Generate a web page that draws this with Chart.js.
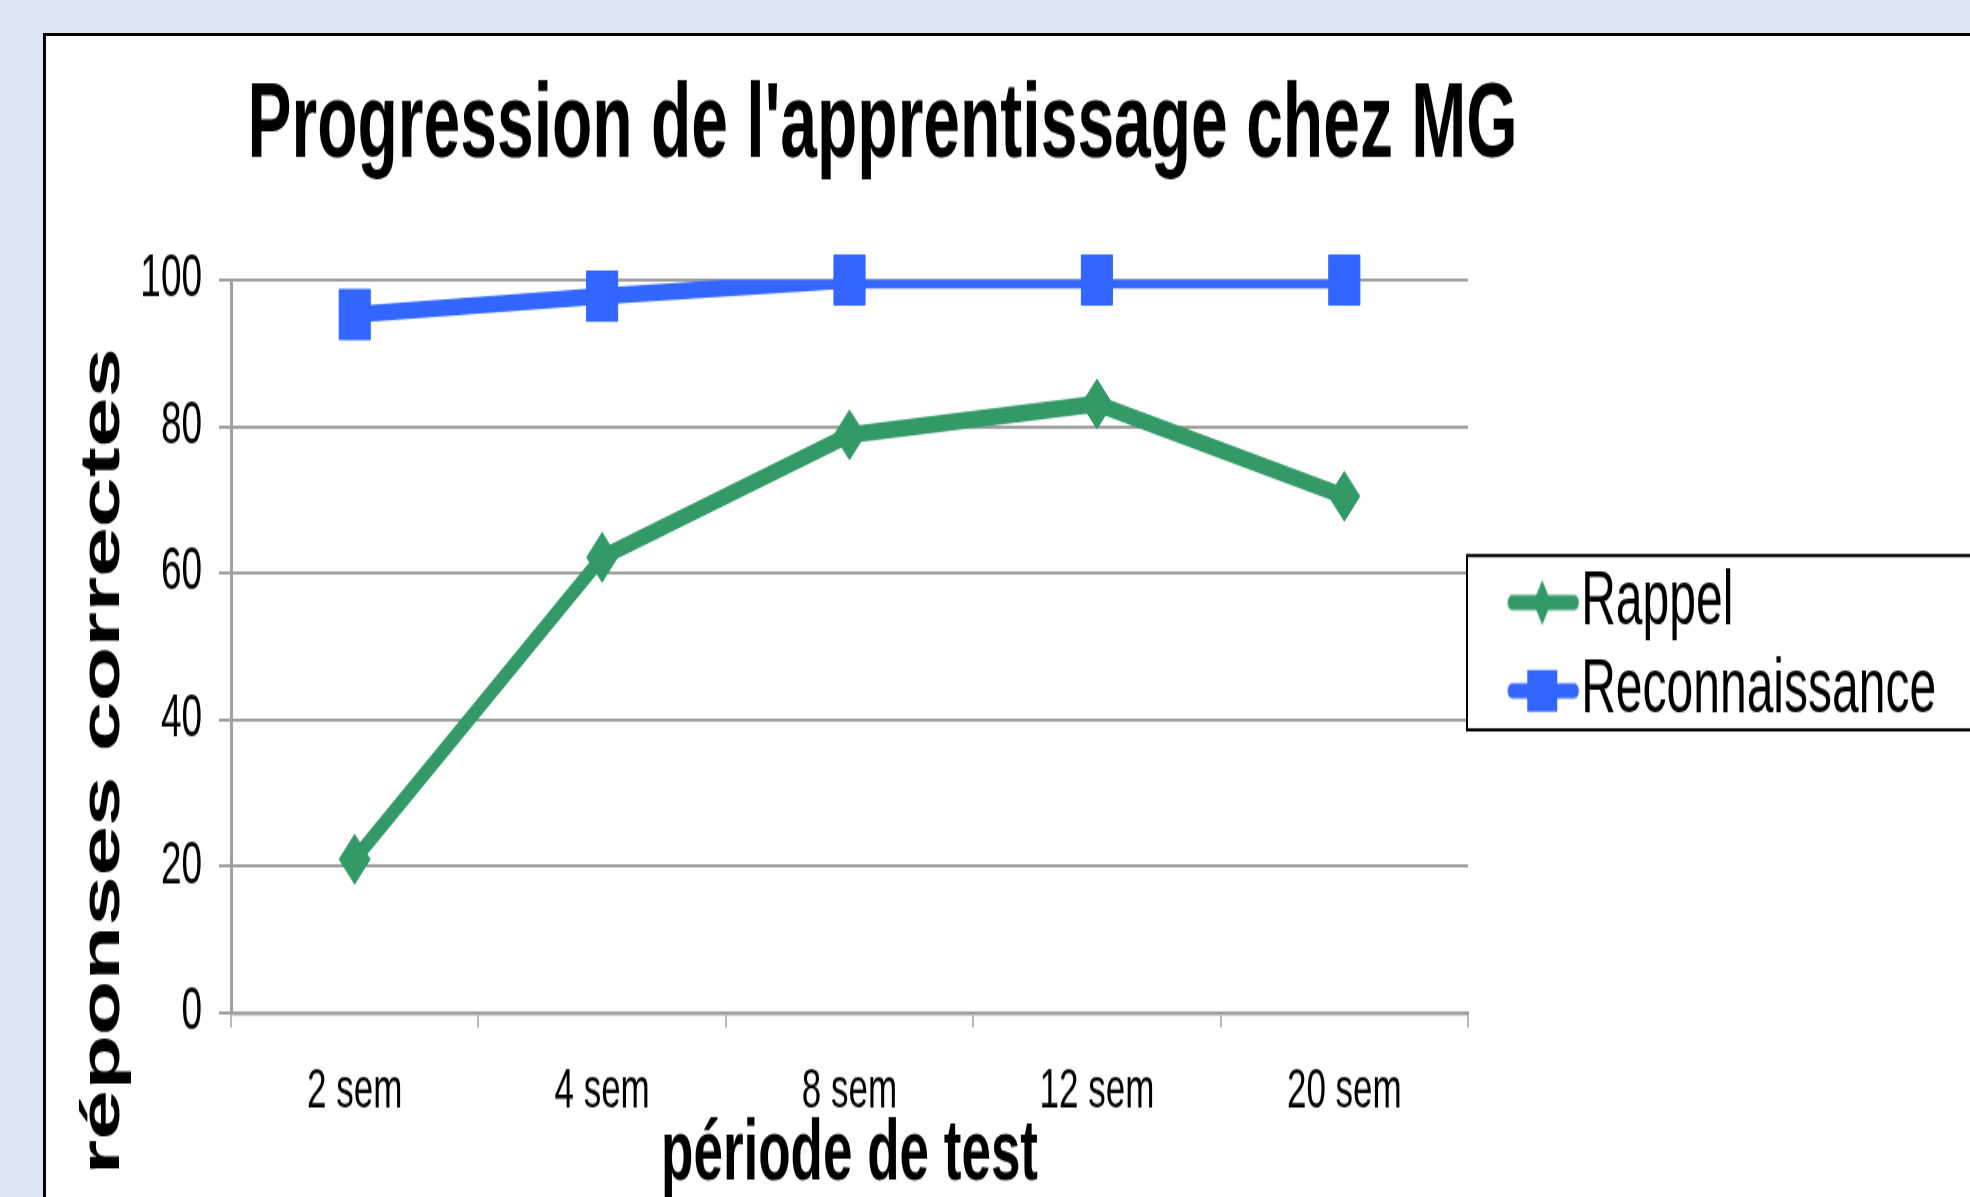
<!DOCTYPE html>
<html>
<head>
<meta charset="utf-8">
<script src="https://cdn.jsdelivr.net/npm/chart.js@4.4.1/dist/chart.umd.min.js"></script>
<style>
    html, body { margin: 0; padding: 0; overflow: hidden; }
    body { width: 1970px; height: 1197px; background: #dce6f2; position: relative; }
    #cadre {
        position: absolute; left: 43px; top: 33px; width: 2000px; height: 1300px;
        background: #fff; border-left: 3px solid #000; border-top: 3px solid #000;
    }
    /* the slide was stretched vertically, so the chart is drawn flat and scaled */
    #etire { position: absolute; left: 0; top: 0; transform: scaleY(1.6003); transform-origin: 0 0; }
    #graphique { display: block; }
</style>
</head>
<body>
<div id="cadre"></div>
<div id="etire"><canvas id="graphique" width="1970" height="748"></canvas></div>
<script>
const periodes = ["2 sem", "4 sem", "8 sem", "12 sem", "20 sem"];
const rappel = [21, 62.2, 78.9, 83.1, 70.5];
const reconnaissance = [95.3, 97.8, 100, 100, 100];
const yMin = 0;
const yMax = 100;
const yPas = 20;

const vert = "#339966";
const bleu = "#3366ff";
const gris = "#a0a0a0";
const police = "'Liberation Sans', Arial, sans-serif";

// legend glyph: a short line with the marker on it
const makeIcon = (color, forme) => {
    const c = document.createElement("canvas");
    c.width = 130;
    c.height = 40;
    const g = c.getContext("2d");
    g.strokeStyle = color;
    g.fillStyle = color;
    g.lineWidth = 9.4;
    g.lineCap = "round";
    g.beginPath();
    g.moveTo(61, 20);
    g.lineTo(123, 20);
    g.stroke();
    g.beginPath();
    if (forme === "losange") {
        g.moveTo(91, 6);
        g.lineTo(100, 20);
        g.lineTo(91, 34);
        g.lineTo(82, 20);
        g.closePath();
    } else {
        g.rect(76, 7, 30, 26);
    }
    g.fill();
    return c;
};

const iconeRappel = makeIcon(vert, "losange");
const iconeReco = makeIcon(bleu, "carre");

const cadreLegende = {
    id: "cadreLegende",
    afterLayout: (chart) => {
        // title is centred a bit right of the plot area
        const t = chart.titleBlock;
        t.right += 66;
        t.width = t.right - t.left;
    },
    afterDraw: (chart) => {
        const lg = chart.legend;
        const hb = lg.legendHitBoxes;
        if (!hb || !hb.length) return;
        const ctx = chart.ctx;
        const haut = hb[0].top - 5.3;
        const bas = hb[hb.length - 1].top + hb[hb.length - 1].height + 0.4;
        ctx.save();
        ctx.strokeStyle = "#000";
        ctx.lineWidth = 2;
        ctx.strokeRect(lg.left - 1, haut, chart.width, bas - haut);
        ctx.restore();
    }
};

new Chart(document.getElementById("graphique"), {
    type: "line",
    data: {
        labels: periodes,
        datasets: [{
            label: "Rappel",
            data: rappel,
            borderColor: vert,
            backgroundColor: vert,
            borderWidth: 10.5,
            pointStyle: "rectRot",
            pointRadius: 15.5,
            pointHoverRadius: 15.5,
            pointBackgroundColor: vert,
            pointBorderColor: vert,
            pointBorderWidth: 1,
            tension: 0,
            clip: false
        }, {
            label: "Reconnaissance",
            data: reconnaissance,
            showLine: false,
            borderColor: bleu,
            backgroundColor: bleu,
            pointStyle: "rect",
            pointRadius: 22,
            pointHoverRadius: 22,
            pointBackgroundColor: bleu,
            pointBorderColor: bleu,
            pointBorderWidth: 1,
            clip: false
        }, {
            label: "Reconnaissance (ligne)",
            data: reconnaissance,
            borderColor: bleu,
            backgroundColor: bleu,
            borderWidth: 10.5,
            pointRadius: 0,
            pointHoverRadius: 0,
            tension: 0,
            clip: {left: false, top: 0, right: false, bottom: false}
        }]
    },
    options: {
        responsive: false,
        maintainAspectRatio: false,
        devicePixelRatio: 1,
        animation: false,
        events: [],
        layout: {
            padding: {left: 70, right: 36, top: 0, bottom: 0}
        },
        plugins: {
            title: {
                display: true,
                text: "Progression de l'apprentissage chez MG",
                fullSize: false,
                align: "center",
                color: "#000",
                font: {family: police, size: 66, weight: "bold", lineHeight: 1.2},
                padding: {top: 40.2, bottom: 55.6}
            },
            legend: {
                position: "right",
                align: "center",
                fullSize: false,
                labels: {
                    usePointStyle: true,
                    pointStyleWidth: 82,
                    padding: 7.2,
                    color: "#000",
                    font: {family: police, size: 48},
                    generateLabels: () => [
                        {text: "Rappel", pointStyle: iconeRappel, fillStyle: vert, strokeStyle: vert, lineWidth: 0, hidden: false, datasetIndex: 0},
                        {text: "Reconnaissance", pointStyle: iconeReco, fillStyle: bleu, strokeStyle: bleu, lineWidth: 0, hidden: false, datasetIndex: 1}
                    ]
                }
            },
            tooltip: {enabled: false}
        },
        scales: {
            x: {
                offset: true,
                grid: {
                    offset: true,
                    drawOnChartArea: true,
                    color: (ctx) => ctx.index === periodes.length ? gris : "rgba(0,0,0,0)",
                    lineWidth: 2,
                    tickColor: gris,
                    tickWidth: 1.5,
                    tickLength: 9
                },
                border: {color: gris, width: 2.5},
                ticks: {
                    color: "#000",
                    padding: 22.6,
                    maxRotation: 0,
                    font: {family: police, size: 35, lineHeight: 1}
                },
                title: {
                    display: true,
                    text: "période de test",
                    color: "#000",
                    font: {family: police, size: 53, weight: "bold", lineHeight: 1},
                    padding: {top: -26.6, bottom: -0.7}
                }
            },
            y: {
                min: yMin,
                max: yMax,
                ticks: {
                    stepSize: yPas,
                    color: "#000",
                    padding: 17,
                    font: {family: police, size: 37}
                },
                grid: {
                    color: gris,
                    lineWidth: 2,
                    tickLength: 12
                },
                border: {color: gris, width: 3},
                title: {
                    display: true,
                    text: "% réponses correctes  \u2009",
                    align: "end",
                    color: "#000",
                    font: {family: police, size: 56, weight: "bold", lineHeight: 1.2},
                    padding: {top: 0, bottom: -13.9}
                }
            }
        }
    },
    plugins: [cadreLegende]
});
</script>
</body>
</html>
